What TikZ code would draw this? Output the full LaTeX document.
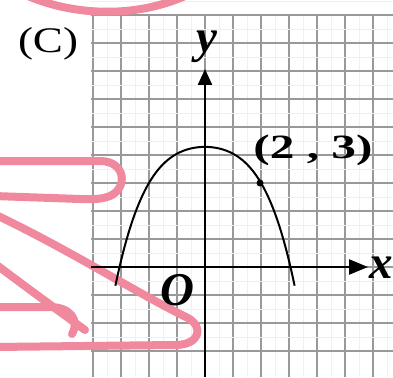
\documentclass[tikz,border=0pt]{standalone}
\usepackage{fontspec}
\setmainfont{Liberation Serif}
\usetikzlibrary{arrows.meta}
\definecolor{markPink}{RGB}{240,136,158}

\begin{document}
\begin{tikzpicture}[x=1pt, y=-1pt]
    \tikzset{
        gridMajor/.style={draw=black!40, line width=1.3pt},
        gridMinor/.style={draw=black!6, line width=0.5pt},
        axisLine/.style={draw=black, line width=2.4pt},
        curveLine/.style={draw=black, line width=2pt},
        penMark/.style={draw=markPink, line width=8pt, line cap=round, line join=round},
        dotMark/.style={circle, fill=black, inner sep=0pt, minimum size=7pt},
        axisLabel/.style={font=\fontsize{47}{47}\selectfont\bfseries\itshape, inner sep=0pt},
        pointLabel/.style={font=\fontsize{34}{34}\selectfont\bfseries, inner sep=0pt, xscale=1.45},
        partLabel/.style={font=\fontsize{36}{36}\selectfont, inner sep=0pt, xscale=1.25}
    }

    \useasboundingbox[fill=white] (0,0) rectangle (393,377);

    % grid
    \foreach \i in {-4,...,6} {
        \draw[gridMinor] ({219+28*\i},15) -- ({219+28*\i},377);
        \draw[gridMajor] ({205+28*\i},15) -- ({205+28*\i},377);
    }
    \foreach \j in {-3,...,9} {
        \draw[gridMinor] (91,{253-28*\j}) -- (393,{253-28*\j});
        \draw[gridMajor] (91,{267-28*\j}) -- (393,{267-28*\j});
    }

    % pen marks
    \draw[penMark] (28,-4) .. controls (75,16) and (135,18) .. (185,-4);
    \draw[penMark] (-6,161) -- (100,161) .. controls (126,161) and (128,188) .. (110,196)
        .. controls (100,200) and (90,199) .. (80,199) -- (-6,196);
    \draw[penMark] (-6,214) .. controls (70,250) and (140,295) .. (188,318)
        .. controls (204,327) and (200,345) .. (175,345) -- (-6,347);
    \draw[penMark] (-6,263) .. controls (30,290) and (60,312) .. (85,330);
    \draw[penMark] (-6,307) -- (50,307) .. controls (70,307) and (80,320) .. (72,334);

    % axes
    \coordinate (xStart) at (91,267);
    \coordinate (xEnd) at (368,267);
    \coordinate (yStart) at (205,377);
    \coordinate (yEnd) at (205,69);
    \draw[axisLine, -{Triangle[length=19pt,width=15pt]}] (xStart) -- (xEnd);
    \draw[axisLine, -{Triangle[length=16pt,width=14pt]}] (yStart) -- (yEnd);

    \begin{scope}[xshift=205pt, yshift=-267pt, x=28pt, y=28pt]
        \draw[curveLine] plot[domain=-3.2:3.2, samples=80, smooth]
            (\x, {4.29-0.218*\x*\x-0.026*\x*\x*\x*\x});
    \end{scope}

    \node[dotMark] (ptA) at (260,183) {};

    \node[partLabel] (partC) at (48,44) {(C)};
    \node[axisLabel, anchor=base] (yLabel) at (207,53) {y};
    \node[axisLabel, anchor=base west] (xLabel) at (369,278) {x};
    \node[axisLabel, anchor=base] (originLabel) at (177,305) {O};
    \node[pointLabel] (ptALabel) at (313,150) {(2 , 3)};
\end{tikzpicture}
\end{document}
